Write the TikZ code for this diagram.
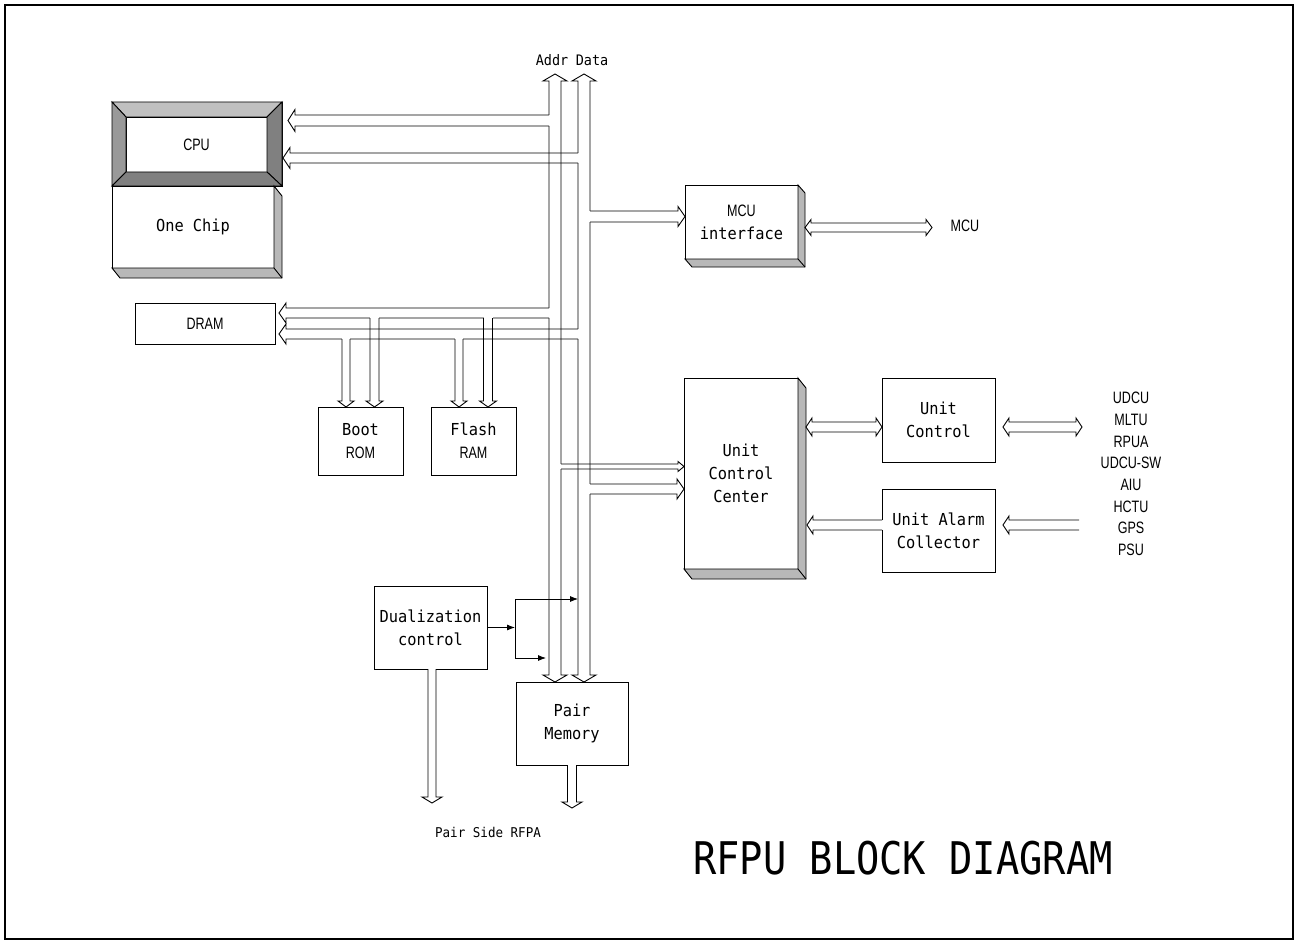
\documentclass[tikz,border=0pt]{standalone}
\usepackage{fontspec}
\usetikzlibrary{calc,arrows.meta}
\newfontfamily\monofam[FakeStretch=0.93]{DejaVu Sans Mono}
\newfontfamily\narfam[FakeStretch=0.76]{Liberation Sans}
\newfontfamily\titlefam[FakeStretch=0.86]{DejaVu Sans Mono}
\newcommand{\monolbl}{\monofam\fontsize{16.5}{23}\selectfont}
\newcommand{\narlbl}{\narfam\fontsize{16.5}{23}\selectfont}
\definecolor{bevlight}{HTML}{C0C0C0}
\definecolor{bevmid}{HTML}{999999}
\definecolor{bevdark}{HTML}{808080}
\definecolor{sidegray}{HTML}{B8B8B8}
\tikzset{
  box/.style={draw, fill=white, outer sep=0pt, inner sep=0pt, align=center, font=\monolbl},
  bus/.style={line join=miter},
  gap/.style={white, line width=1.8pt},
  sig/.style={line width=0.8pt, -{Latex[length=8pt,width=6pt]}},
  side/.style={fill=sidegray, draw},
}
% block with a 3D side
\newcommand{\extrude}[3]{%
  \filldraw[side] (#1.north east) -- ++(#2,#3) -- ($(#1.south east)+(#2,#3)$) -- ($(#1.south west)+(#2,#3)$) -- (#1.south west) -- (#1.south east) -- cycle;
  \draw (#1.south east) -- ++(#2,#3);
}
% hollow bus arrow: start, tip, half width, head half width, head length
\newcommand{\busarrow}[5]{%
  \coordinate (ba-s) at (#1);
  \coordinate (ba-e) at (#2);
  \coordinate (ba-b) at ($(ba-e)!#5!(ba-s)$);
  \draw[gap] ($(ba-s)!#3!90:(ba-e)$) -- ($(ba-s)!#3!-90:(ba-e)$);
  \draw[bus] ($(ba-s)!#3!90:(ba-e)$) -- ($(ba-b)!#3!90:(ba-e)$) -- ($(ba-b)!#4!90:(ba-e)$) -- (ba-e)
    -- ($(ba-b)!#4!-90:(ba-e)$) -- ($(ba-b)!#3!-90:(ba-e)$) -- ($(ba-s)!#3!-90:(ba-e)$);
}
% same, heads at both ends
\newcommand{\busboth}[5]{%
  \coordinate (ba-s) at (#1);
  \coordinate (ba-e) at (#2);
  \coordinate (ba-b) at ($(ba-e)!#5!(ba-s)$);
  \coordinate (ba-a) at ($(ba-s)!#5!(ba-e)$);
  \draw[bus] ($(ba-a)!#3!90:(ba-e)$) -- ($(ba-b)!#3!90:(ba-e)$) -- ($(ba-b)!#4!90:(ba-e)$) -- (ba-e)
    -- ($(ba-b)!#4!-90:(ba-e)$) -- ($(ba-b)!#3!-90:(ba-e)$) -- ($(ba-a)!#3!-90:(ba-e)$)
    -- ($(ba-a)!#4!-90:(ba-e)$) -- (ba-s) -- ($(ba-a)!#4!90:(ba-e)$) -- cycle;
}
\begin{document}
\begin{tikzpicture}[x=1pt, y=-1pt, line width=0.9pt]
\useasboundingbox (0,0) rectangle (1298,944);
\draw[line width=1.8pt] (5,5) rectangle (1293,939);

% CPU with bevel
\node[box, minimum width=170pt, minimum height=84pt] (cpuframe) at (197,144) {};
\node[box, font=\narlbl, minimum width=141pt, minimum height=55pt] (cpu) at (196.5,144.5) {CPU};
\filldraw[fill=bevlight] (cpuframe.north west) -- (cpuframe.north east) -- (cpu.north east) -- (cpu.north west) -- cycle;
\filldraw[fill=bevmid] (cpuframe.north west) -- (cpu.north west) -- (cpu.south west) -- (cpuframe.south west) -- cycle;
\filldraw[fill=bevdark] (cpuframe.north east) -- (cpu.north east) -- (cpu.south east) -- (cpuframe.south east) -- cycle;
\filldraw[fill=bevdark] (cpuframe.south west) -- (cpuframe.south east) -- (cpu.south east) -- (cpu.south west) -- cycle;

\node[box, minimum width=162pt, minimum height=82pt] (onechip) at (193,227) {One Chip};
\extrude{onechip}{8}{10}
\node[box, minimum width=113pt, minimum height=74pt] (mcuif) at (741.5,222) {{\narlbl MCU}\\interface};
\extrude{mcuif}{7}{8}
\node[box, minimum width=114pt, minimum height=191pt] (ucc) at (741,473.5) {Unit\\Control\\Center};
\extrude{ucc}{8}{10}
\node[box, minimum width=113pt, minimum height=84pt] (unitctl) at (938.5,420) {Unit\\Control};
\node[box, minimum width=113pt, minimum height=83pt] (alarm) at (938.5,530.5) {Unit Alarm\\Collector};
\node[box, font=\narlbl, minimum width=140pt, minimum height=41pt] (dram) at (205,323.5) {DRAM};
\node[box, minimum width=85pt, minimum height=68pt] (boot) at (360.5,441) {Boot\\{\narlbl ROM}};
\node[box, minimum width=85pt, minimum height=68pt] (flash) at (473.5,441) {Flash\\{\narlbl RAM}};
\node[box, minimum width=113pt, minimum height=83pt] (dual) at (430.5,627.5) {Dualization\\control};
\node[box, minimum width=112pt, minimum height=83pt] (pair) at (572,723.5) {Pair\\Memory};

% labels
\node[font=\monofam\fontsize{14.5}{18}\selectfont] (addrlbl) at (552,60) {Addr};
\node[font=\monofam\fontsize{14.5}{18}\selectfont] (datalbl) at (592,60) {Data};
\node[font=\narlbl] (mcuext) at (965,226) {MCU};
\node[font=\narfam\fontsize{16.5}{21.7}\selectfont, align=center] (units) at (1131,474)
  {UDCU\\MLTU\\RPUA\\UDCU-SW\\AIU\\HCTU\\GPS\\PSU};
\node[font=\monofam\fontsize{13.5}{18}\selectfont] (rfpa) at (488,832) {Pair Side RFPA};
\node[font=\titlefam\fontsize{45}{52}\selectfont] (title) at (903,858) {RFPU BLOCK DIAGRAM};

% bus lines
\coordinate (al) at (549,0);
\coordinate (ar) at (561,0);
\coordinate (dl) at (578,0);
\coordinate (dr) at (590,0);
\coordinate (addrtop) at (555,74);
\coordinate (datatop) at (584,74);
\coordinate (mcuend) at (932,227.5);
\coordinate (extctl) at (1082,427);
\coordinate (extalarm) at (1079,525);
\coordinate (rfpa1) at (432,803);
\coordinate (rfpa2) at (572,808);

\busboth{addrtop}{pair.north -| addrtop}{6pt}{12pt}{7pt}
\busboth{datatop}{pair.north -| datatop}{6pt}{12pt}{7pt}

\busarrow{al |- 0,120.5}{$(cpuframe.east |- 0,120.5)+(6,0)$}{5.5pt}{11pt}{7pt}
\busarrow{dl |- 0,158}{$(cpuframe.east |- 0,158)+(1,0)$}{5pt}{10.5pt}{7pt}
\busarrow{dr |- 0,216.5}{mcuif.west |- 0,216.5}{5.5pt}{10pt}{7pt}
\busboth{$(mcuif.east |- 0,227.5)+(7,0)$}{mcuend}{4.5pt}{8pt}{6pt}
\busarrow{al |- 0,313}{$(dram.east |- 0,313)+(4,0)$}{5pt}{10pt}{7pt}
\busarrow{dl |- 0,334}{$(dram.east |- 0,334)+(4,0)$}{5pt}{10pt}{7pt}
\busarrow{346,339}{boot.north -| 346,0}{4pt}{8pt}{6pt}
\busarrow{374.5,318}{boot.north -| 374.5,0}{4.5pt}{8.5pt}{6pt}
\busarrow{459,339}{flash.north -| 459,0}{4pt}{8pt}{6pt}
\busarrow{488,318}{flash.north -| 488,0}{4.5pt}{8.5pt}{6pt}
\busarrow{ar |- 0,466.5}{ucc.west |- 0,466.5}{2.5pt}{5pt}{6pt}
\busarrow{dr |- 0,489}{ucc.west |- 0,489}{5pt}{10pt}{7pt}
\busboth{$(ucc.east |- 0,427)+(8,0)$}{unitctl.west |- 0,427}{5pt}{9pt}{6pt}
\busboth{$(unitctl.east |- 0,427)+(8,0)$}{extctl}{5pt}{9pt}{6pt}
\busarrow{alarm.west |- 0,525}{$(ucc.east |- 0,525)+(9,0)$}{5pt}{9pt}{6pt}
\busarrow{extalarm}{$(alarm.east |- 0,525)+(8,0)$}{5pt}{9pt}{6pt}
\busarrow{dual.south -| rfpa1}{rfpa1}{4pt}{10pt}{6pt}
\busarrow{pair.south -| rfpa2}{rfpa2}{4.5pt}{10pt}{6pt}

% dualization control lines
\coordinate (dj) at (515,627.5);
\draw[sig] (dual.east) -- (dj);
\draw (dj |- 0,599) -- (dj |- 0,658);
\draw[sig] (dj |- 0,599) -- (dl |- 0,599);
\draw[sig] (dj |- 0,658) -- ($(al |- 0,658)+(-3,0)$);
\end{tikzpicture}
\end{document}
